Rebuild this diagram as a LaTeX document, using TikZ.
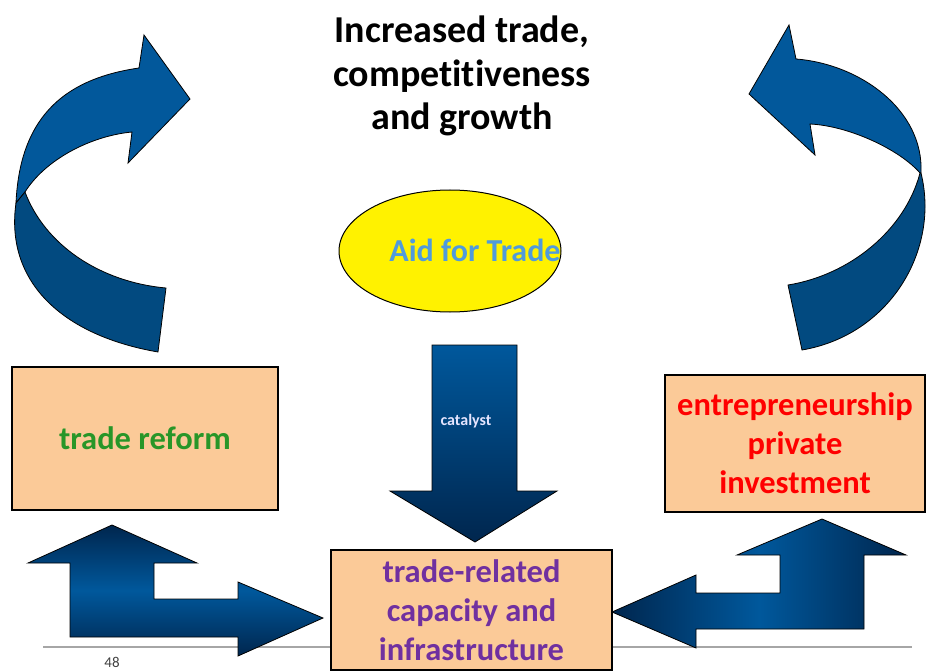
\documentclass[tikz,border=0pt]{standalone}
\usepackage{fontspec}
\setmainfont{Carlito}[Ligatures=NoCommon]
\usepackage{xcolor}
\usepackage{tikz}
\usetikzlibrary{calc}
\usetikzlibrary{shapes.geometric}
\definecolor{bandlight}{RGB}{2,88,155}
\definecolor{banddark}{RGB}{2,74,128}
\definecolor{navydark}{RGB}{0,38,78}
\definecolor{navymid}{RGB}{0,88,156}
\definecolor{peach}{RGB}{251,202,152}
\definecolor{aidblue}{RGB}{80,155,220}
\definecolor{reformgreen}{RGB}{40,150,40}
\definecolor{capacitypurple}{RGB}{112,48,160}

\begin{document}
\begin{tikzpicture}[x=1pt, y=-1pt,
    box/.style={draw=black, line width=1.2pt, fill=peach, align=center, inner sep=0pt},
    boxtext/.style={font=\fontsize{32.5}{39}\selectfont\bfseries}]
    \useasboundingbox (0,0) rectangle (926,671);
    %
    \draw[gray!70, line width=1.2pt] (43,647) -- (912,647);
    %
    \node[font=\fontsize{38}{43.5}\selectfont\bfseries, align=center] (title) at (462,76) {Increased trade,\\competitiveness\\and growth};
    %
    \filldraw[black, fill=bandlight, line width=0.8pt] (16,203) .. controls (20,112) and (70,78) .. (139,68) -- (144,35) -- (190,99) -- (128,163) -- (132,132) .. controls (90,136) and (45,160) .. (25,192) -- cycle;
    \filldraw[black, fill=banddark, line width=0.8pt] (25,192) .. controls (45,245) and (100,282) .. (166,288) -- (158,352) .. controls (60,335) and (5,280) .. (16,203) -- cycle;
    %
    \filldraw[black, fill=bandlight, line width=0.8pt] (921,173) .. controls (924,110) and (860,64) .. (796,59) -- (789,25) -- (749,94) -- (815,155) -- (810,124) .. controls (850,126) and (900,150) .. (920,173) -- cycle;
    \filldraw[black, fill=banddark, line width=0.8pt] (920,173) .. controls (905,230) and (850,275) .. (788,285) -- (802,350) .. controls (890,335) and (940,250) .. (921,173) -- cycle;
    %
    \filldraw[black, fill=yellow, line width=1pt] (450,251) ellipse [x radius=111pt, y radius=61pt];
    \node[font=\fontsize{32}{38}\selectfont\bfseries, text=aidblue] (aid) at (475,250) {Aid for Trade};
    %
    \shadedraw[draw=black, line width=0.8pt, top color=navymid, bottom color=navydark] (432,345) -- (517,345) -- (517,491) -- (557,491) -- (475,542) -- (390,491) -- (432,491) -- cycle;
    \node[font=\fontsize{16}{18}\selectfont\bfseries, text=blue!10] (catalyst) at (466,421) {catalyst};
    %
    \node[box, boxtext, text=reformgreen, minimum width=266pt, minimum height=143pt] (reform) at (145,438.5) {trade reform};
    \node[box, boxtext, text=red, minimum width=260pt, minimum height=137pt] (entre) at (795,443.5) {entrepreneurship\\private\\investment};
    \node[box, boxtext, text=capacitypurple, minimum width=281pt, minimum height=120pt] (capacity) at (471.5,610) {trade-related\\capacity and\\infrastructure};
    %
    \shadedraw[draw=black, line width=0.8pt, top color=navydark, bottom color=navydark, middle color=navymid] (70,637) -- (70,563) -- (28,563) -- (112,525) -- (197,563) -- (154,563) -- (154,599) -- (238,599) -- (238,582) -- (323,618) -- (238,656) -- (238,637) -- cycle;
    \shadedraw[draw=black, line width=0.8pt, left color=navydark, right color=navydark, middle color=navymid] (864,629) -- (864,555) -- (906,555) -- (822,519) -- (737,555) -- (780,555) -- (780,593) -- (696,593) -- (696,575) -- (612,612) -- (696,648) -- (696,629) -- cycle;
    %
    \node[font=\fontsize{15}{18}\selectfont, text=black!75, anchor=base] (page) at (112,667) {48};
\end{tikzpicture}
\end{document}
